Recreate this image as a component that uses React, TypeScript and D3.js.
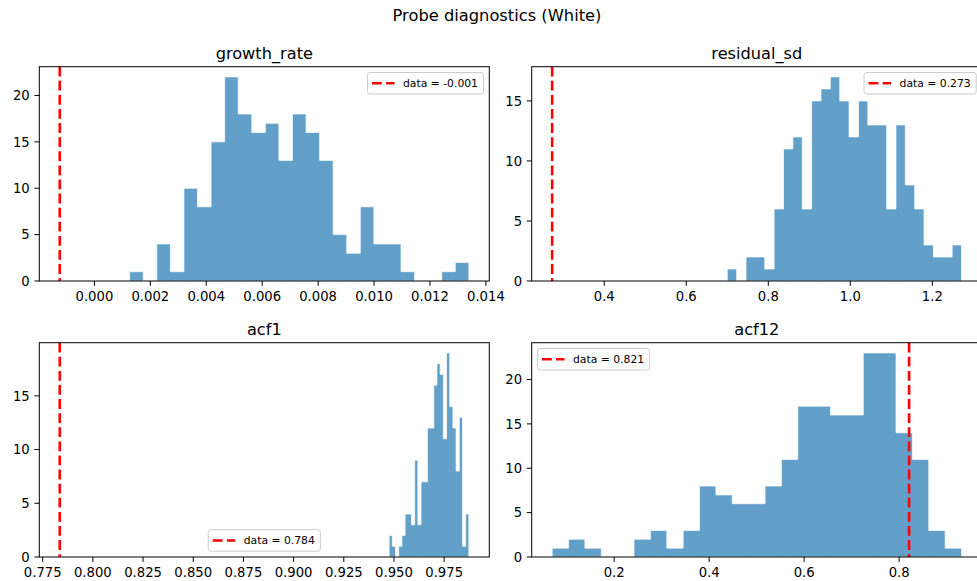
import React from 'react';
import * as d3 from 'd3';

// ---------------- data ----------------
const SUPTITLE = 'Probe diagnostics (White)';
const panelNames = ['growth_rate', 'residual_sd', 'acf1', 'acf12'];

const growthCounts = [1, 0, 4, 1, 10, 8, 15, 22, 18, 16, 17, 13, 18, 16, 13, 5, 3, 8, 4, 4, 1, 0, 0, 1, 2];
const growthBinRange = [0.00126, 0.01339];
const growthObserved = -0.00124;
const growthLegend = 'data = -0.001';
const growthXTicks = [0, 0.002, 0.004, 0.006, 0.008, 0.01, 0.012, 0.014];
const growthYTicks = [0, 5, 10, 15, 20];

const residualCounts = [1, 0, 2, 2, 1, 6, 11, 12, 6, 15, 16, 17, 15, 12, 15, 13, 13, 6, 13, 8, 6, 3, 2, 2, 3];
const residualBinRange = [0.7, 1.2712];
const residualObserved = 0.273;
const residualLegend = 'data = 0.273';
const residualXTicks = [0.4, 0.6, 0.8, 1.0, 1.2];
const residualYTicks = [0, 5, 10, 15];

const acf1Counts = [2, 1, 0, 1, 2, 4, 4, 3, 9, 3, 7, 7, 12, 12, 16, 18, 17, 11, 19, 14, 12, 8, 13, 1, 4];
const acf1BinRange = [0.9476, 0.9873];
const acf1Observed = 0.7835;
const acf1Legend = 'data = 0.784';
const acf1XTicks = [0.775, 0.8, 0.825, 0.85, 0.875, 0.9, 0.925, 0.95, 0.975];
const acf1YTicks = [0, 5, 10, 15];

const acf12Counts = [1, 2, 1, 0, 0, 2, 3, 1, 3, 8, 7, 6, 6, 8, 11, 17, 17, 16, 16, 23, 23, 14, 11, 3, 1];
const acf12BinRange = [0.0695, 0.9314];
const acf12Observed = 0.821;
const acf12Legend = 'data = 0.821';
const acf12XTicks = [0.2, 0.4, 0.6, 0.8];
const acf12YTicks = [0, 5, 10, 15, 20];

// ---------------- layout ----------------
const W = 977;
const H = 581;
const FONT = 'DejaVu Sans, Liberation Sans, sans-serif';
const BAR = '#1f77b4';

type Panel = {
  name: string;
  counts: number[];
  range: number[];
  observed: number;
  legend: string;
  legendLoc: 'upper right' | 'upper left' | 'lower center';
  xTicks: number[];
  xFmt: string;
  yTicks: number[];
  box: { left: number; right: number; top: number; bottom: number };
};

const panels: Panel[] = [
  { name: panelNames[0], counts: growthCounts, range: growthBinRange, observed: growthObserved, legend: growthLegend, legendLoc: 'upper right', xTicks: growthXTicks, xFmt: '.3f', yTicks: growthYTicks, box: { left: 39.3, right: 489.3, top: 66.7, bottom: 281 } },
  { name: panelNames[1], counts: residualCounts, range: residualBinRange, observed: residualObserved, legend: residualLegend, legendLoc: 'upper right', xTicks: residualXTicks, xFmt: '.1f', yTicks: residualYTicks, box: { left: 531.7, right: 982, top: 66.7, bottom: 281 } },
  { name: panelNames[2], counts: acf1Counts, range: acf1BinRange, observed: acf1Observed, legend: acf1Legend, legendLoc: 'lower center', xTicks: acf1XTicks, xFmt: '.3f', yTicks: acf1YTicks, box: { left: 39.3, right: 489.3, top: 342.7, bottom: 557 } },
  { name: panelNames[3], counts: acf12Counts, range: acf12BinRange, observed: acf12Observed, legend: acf12Legend, legendLoc: 'upper left', xTicks: acf12XTicks, xFmt: '.1f', yTicks: acf12YTicks, box: { left: 531.7, right: 982, top: 342.7, bottom: 557 } },
];

let measureCtx: CanvasRenderingContext2D | null = null;
function textWidth(s: string, size: number) {
  if (!measureCtx) {
    const c = document.createElement('canvas');
    measureCtx = c.getContext('2d');
  }
  if (!measureCtx) return s.length * size * 0.6;
  measureCtx.font = `${size}px "DejaVu Sans"`;
  return measureCtx.measureText(s).width;
}

function PanelView({ p }: { p: Panel }) {
  const { left, right, top, bottom } = p.box;
  const lo = Math.min(p.observed, p.range[0]);
  const hi = Math.max(p.observed, p.range[1]);
  const pad = (hi - lo) * 0.05;
  const x = d3.scaleLinear().domain([lo - pad, hi + pad]).range([left, right]);
  const ymax = (d3.max(p.counts) ?? 1) * 1.05;
  const y = d3.scaleLinear().domain([0, ymax]).range([bottom, top]);

  const n = p.counts.length;
  const edges = d3.range(n + 1).map((i) => p.range[0] + ((p.range[1] - p.range[0]) * i) / n);
  const pts: [number, number][] = p.counts.map((c, i) => [edges[i], c]);
  pts.push([edges[n], p.counts[n - 1]]);
  const area = d3
    .area<[number, number]>()
    .x((d) => x(d[0]))
    .y0(y(0))
    .y1((d) => y(d[1]))
    .curve(d3.curveStepAfter);
  const pathD = area(pts) ?? '';

  const fmt = d3.format(p.xFmt);
  const tickLen = 4.9;
  const tickFont = 13.2;

  // legend
  const lf = 10.8;
  const tw = textWidth(p.legend, lf);
  const lw = tw + 41;
  const lh = 21.5;
  const lpad = 5.8;
  let lx = 0;
  let ly = 0;
  if (p.legendLoc === 'upper right') {
    lx = right - lpad - lw;
    ly = top + lpad;
  } else if (p.legendLoc === 'upper left') {
    lx = left + lpad;
    ly = top + lpad;
  } else {
    lx = (left + right) / 2 - lw / 2;
    ly = bottom - lpad - lh;
  }

  return (
    <g>
      <text x={(left + right) / 2} y={top - 8.2} textAnchor="middle" fontSize={16.2} fontFamily={FONT} fill="#000">
        {p.name}
      </text>
      <path d={pathD} fill={BAR} fillOpacity={0.7} stroke="#ffffff" strokeOpacity={0.7} strokeWidth={1} />
      <line x1={x(p.observed)} x2={x(p.observed)} y1={top} y2={bottom} stroke="#ff0000" strokeWidth={2.6} strokeDasharray="9.8,4.3" />
      {/* spines */}
      <rect x={left} y={top} width={right - left} height={bottom - top} fill="none" stroke="#000" strokeWidth={1} />
      {/* x ticks */}
      {p.xTicks.map((t) => (
        <g key={'x' + t}>
          <line x1={x(t)} x2={x(t)} y1={bottom} y2={bottom + tickLen} stroke="#000" strokeWidth={1} />
          <text x={x(t)} y={bottom + 19.8} textAnchor="middle" fontSize={tickFont} fontFamily={FONT} fill="#000">
            {fmt(t)}
          </text>
        </g>
      ))}
      {/* y ticks */}
      {p.yTicks.map((t) => (
        <g key={'y' + t}>
          <line x1={left - tickLen} x2={left} y1={y(t)} y2={y(t)} stroke="#000" strokeWidth={1} />
          <text x={left - 9.6} y={y(t) + 4.8} textAnchor="end" fontSize={tickFont} fontFamily={FONT} fill="#000">
            {t}
          </text>
        </g>
      ))}
      {/* legend */}
      <rect x={lx} y={ly} width={lw} height={lh} rx={2.5} fill="#ffffff" fillOpacity={0.8} stroke="#cccccc" strokeWidth={1} />
      <line x1={lx + 4.5} x2={lx + 27} y1={ly + lh / 2} y2={ly + lh / 2} stroke="#ff0000" strokeWidth={2.6} strokeDasharray="9.8,4.3" />
      <text x={lx + 35.5} y={ly + lh / 2 + 3.9} fontSize={lf} fontFamily={FONT} fill="#000">
        {p.legend}
      </text>
    </g>
  );
}

export default function App() {
  return (
    <svg
      width={W}
      height={H}
      viewBox={`0 0 ${W} ${H}`}
      style={{ position: 'absolute', left: 0, top: 0, background: '#fff', overflow: 'hidden' }}
    >
      <rect x={0} y={0} width={W} height={H} fill="#ffffff" />
      <text x={497} y={20.5} textAnchor="middle" fontSize={16.3} fontFamily={FONT} fill="#000">
        {SUPTITLE}
      </text>
      {panels.map((p) => (
        <PanelView key={p.name} p={p} />
      ))}
    </svg>
  );
}
